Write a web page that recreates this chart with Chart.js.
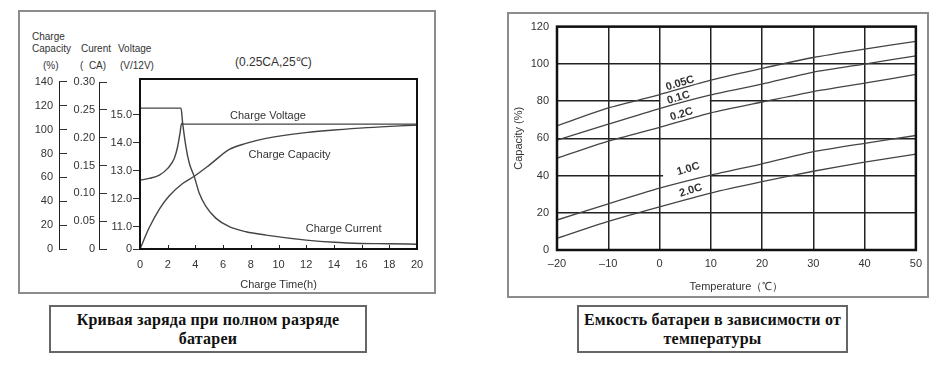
<!DOCTYPE html>
<html>
<head>
<meta charset="utf-8">
<script src="https://cdn.jsdelivr.net/npm/chart.js@4.4.1/dist/chart.umd.min.js"></script>
<style>
  body { margin: 0; background: #fff; width: 948px; height: 374px; position: relative; overflow: hidden;
         font-family: "Liberation Sans", Arial, sans-serif; color: #333; }
  .frame { position: absolute; box-sizing: border-box; border: 2px solid #8c8c8c; }
  canvas { position: absolute; }
  .txt { position: absolute; font-size: 10px; line-height: 12px; white-space: nowrap; color: #333; }
  .caption { position: absolute; box-sizing: border-box; border: 2px solid #666; text-align: center;
             font-family: "Liberation Serif", "Times New Roman", serif; font-weight: bold; font-size: 16px;
             letter-spacing: 0.2px; line-height: 19px; padding-top: 3px; color: #111; white-space: nowrap; }
</style>
</head>
<body>
<div class="frame" style="left:18px;top:10px;width:418px;height:284px"></div>
<div class="frame" style="left:507px;top:12px;width:422px;height:286px"></div>

<div class="txt" style="left:32px;top:31px">Charge</div>
<div class="txt" style="left:32px;top:43px">Capacity</div>
<div class="txt" style="left:81px;top:43px">Curent</div>
<div class="txt" style="left:118px;top:43px">Voltage</div>
<div class="txt" style="left:43px;top:60px">(%)</div>
<div class="txt" style="left:80px;top:60px">(&nbsp;&nbsp;CA)</div>
<div class="txt" style="left:120px;top:60px">(V/12V)</div>
<div class="txt" style="left:235px;top:55px;font-size:12px;line-height:14px">(0.25CA,25℃)</div>

<canvas id="chargeChart" width="418" height="284" style="left:18px;top:10px"></canvas>
<canvas id="tempChart" width="422" height="286" style="left:507px;top:12px"></canvas>

<div class="caption" style="left:49px;top:305px;width:318px;height:48px">Кривая заряда при полном разряде<br>батареи</div>
<div class="caption" style="left:577px;top:305px;width:271px;height:48px">Емкость батареи в зависимости от<br>температуры</div>

<script>
// ---- charge curve (left) ----
const timeTicks = [0, 2, 4, 6, 8, 10, 12, 14, 16, 18, 20];
const capacityTicks = [0, 20, 40, 60, 80, 100, 120, 140];
const currentTicks = [0, 0.05, 0.10, 0.15, 0.20, 0.25, 0.30];
const voltageTicks = [11, 12, 13, 14, 15];

const voltageTime = [0, 0.67, 1.4, 2.0, 2.48, 2.72, 2.89, 3.0, 3.08, 20];
const voltageValues = [12.67, 12.73, 12.85, 13.09, 13.45, 13.87, 14.35, 14.69, 14.67, 14.67];

const currentTime = [0, 2.96, 3.08, 3.32, 3.56, 3.92, 4.28, 4.77, 5.49, 6.45, 7.65, 9.1, 12, 14, 16, 18, 20];
const currentValues = [0.253, 0.253, 0.226, 0.183, 0.154, 0.130, 0.100, 0.076, 0.055, 0.040, 0.031, 0.025, 0.016, 0.012, 0.010, 0.0095, 0.0085];

const capacityTime = [0, 0.67, 1.4, 2.1, 3.08, 3.92, 5.0, 6.45, 7.65, 9.1, 12.1, 14, 16.4, 20];
const capacityValues = [0, 18.0, 33.5, 44.5, 54.9, 61, 70.3, 83.5, 88.5, 92.7, 97.8, 99.7, 101.7, 103.9];

// ---- capacity vs temperature (right) ----
const temps = [-20, -10, 0, 10, 20, 30, 40, 50];
const rateNames = ['0.05C', '0.1C', '0.2C', '1.0C', '2.0C'];
const cap005 = [66.7, 76.3, 83.5, 91.2, 97.6, 103.4, 107.9, 112.1];
const cap01 = [59.0, 67.6, 76.0, 83.3, 89.1, 95.5, 99.9, 104.3];
const cap02 = [49.3, 58.5, 65.9, 73.7, 79.5, 85.1, 89.6, 94.3];
const cap10 = [16.1, 24.8, 33.2, 40.2, 46.3, 52.8, 57.3, 61.5];
const cap20 = [6.3, 15.4, 23.2, 30.6, 36.7, 42.3, 47.2, 51.5];

Chart.defaults.font.family = '"Liberation Sans", Arial, sans-serif';
Chart.defaults.font.size = 11;
Chart.defaults.color = '#333';

function pts(xs, ys) {
    return xs.map((x, i) => ({x: x, y: ys[i]}));
}
function fixTicks(list) {
    return function (scale) { scale.ticks = list.map(v => ({value: v})); };
}

const lineStyle = {borderColor: '#444', borderWidth: 1.4, pointRadius: 0, fill: false, cubicInterpolationMode: 'monotone'};

const chargePlugin = {
    id: 'chargeDeco',
    afterDraw(chart) {
        const ctx = chart.ctx, a = chart.chartArea, s = chart.scales;
        ctx.save();
        ctx.strokeStyle = '#222';
        ctx.lineWidth = 1;
        // inner ticks on time axis
        s.x.ticks.forEach(t => {
            if (t.value === 0 || t.value === 20) return;
            const px = Math.round(s.x.getPixelForValue(t.value)) + 0.5;
            ctx.beginPath(); ctx.moveTo(px, a.bottom); ctx.lineTo(px, a.bottom - 4); ctx.stroke();
        });
        // spine lines of the two outer axes (ticks point right)
        ['yCap', 'yCur'].forEach(id => {
            const sc = s[id];
            const lx = Math.round(sc.right - 8) + 0.5;
            const top = sc.getPixelForValue(sc.ticks[sc.ticks.length - 1].value);
            ctx.beginPath(); ctx.moveTo(lx, top); ctx.lineTo(lx, sc.getPixelForValue(0)); ctx.stroke();
        });
        // plot frame
        ctx.strokeStyle = '#111';
        ctx.lineWidth = 2;
        ctx.strokeRect(a.left, a.top, a.right - a.left, a.bottom - a.top);
        // curve names
        ctx.fillStyle = '#333';
        ctx.font = '11px "Liberation Sans", Arial, sans-serif';
        ctx.textAlign = 'center';
        ctx.textBaseline = 'middle';
        ctx.fillText('Charge Voltage', s.x.getPixelForValue(9.24), s.yVolt.getPixelForValue(14.96));
        ctx.fillText('Charge Capacity', s.x.getPixelForValue(10.8), s.yCap.getPixelForValue(78.8));
        ctx.fillText('Charge Current', s.x.getPixelForValue(14.7), s.yCur.getPixelForValue(0.036));
        ctx.restore();
    }
};

new Chart(document.getElementById('chargeChart'), {
    type: 'line',
    data: {
        datasets: [
            Object.assign({label: 'Charge Voltage', data: pts(voltageTime, voltageValues), yAxisID: 'yVolt'}, lineStyle),
            Object.assign({label: 'Charge Current', data: pts(currentTime, currentValues), yAxisID: 'yCur'}, lineStyle),
            Object.assign({label: 'Charge Capacity', data: pts(capacityTime, capacityValues), yAxisID: 'yCap'}, lineStyle)
        ]
    },
    options: {
        responsive: false,
        animation: false,
        layout: {padding: {left: 0, top: 69, right: 19, bottom: 0}},
        plugins: {legend: {display: false}, tooltip: {enabled: false}},
        scales: {
            x: {
                type: 'linear', min: 0, max: 20,
                afterBuildTicks: fixTicks(timeTicks),
                afterFit(scale) { scale.height = 45; },
                grid: {display: false, drawTicks: false},
                border: {display: false},
                ticks: {padding: 9, maxRotation: 0, autoSkip: false},
                title: {display: true, text: 'Charge Time(h)', padding: {top: 0, bottom: 2}, font: {size: 11}}
            },
            yVolt: {
                position: 'left', weight: 0, min: 10.21, max: 16.28,
                afterBuildTicks(scale) { scale.ticks = [{value: 10.21}].concat(voltageTicks.map(v => ({value: v}))); },
                afterFit(scale) { scale.width = 33; },
                grid: {drawOnChartArea: false, tickLength: 7, color: '#333'},
                border: {display: false},
                ticks: {padding: 1, callback: v => v < 11 ? '0' : v.toFixed(1)}
            },
            yCur: {
                position: 'left', weight: 1, min: 0, max: 0.3054,
                afterBuildTicks: fixTicks(currentTicks),
                afterFit(scale) { scale.width = 40; },
                grid: {drawOnChartArea: false, tickLength: 8, color: '#333'},
                border: {display: false},
                ticks: {padding: 4, callback: v => v === 0 ? '0' : v.toFixed(2)}
            },
            yCap: {
                position: 'left', weight: 2, min: 0, max: 142.5,
                afterBuildTicks: fixTicks(capacityTicks),
                afterFit(scale) { scale.width = 49; },
                grid: {drawOnChartArea: false, tickLength: 8, color: '#333'},
                border: {display: false},
                ticks: {padding: 6, callback: v => String(v)}
            }
        }
    },
    plugins: [chargePlugin]
});

// ---- right chart ----
const rateLabelPos = [[4.0, 89.6], [3.7, 81.8], [4.3, 72.9], [5.6, 43.5], [6.1, 32.0]];

const tempPlugin = {
    id: 'tempDeco',
    beforeDatasetsDraw(chart) {
        // gaps in the 80 and 40 grid lines behind the labels
        const ctx = chart.ctx, s = chart.scales;
        ctx.save();
        ctx.fillStyle = '#fff';
        [[0, 10, 80], [0.5, 10, 40]].forEach(g => {
            const x1 = s.x.getPixelForValue(g[0]) + 1, x2 = s.x.getPixelForValue(g[1]) - 1;
            const y = s.y.getPixelForValue(g[2]);
            ctx.fillRect(x1, y - 1.5, x2 - x1, 3);
        });
        ctx.restore();
    },
    afterDraw(chart) {
        const ctx = chart.ctx, a = chart.chartArea, s = chart.scales;
        ctx.save();
        ctx.strokeStyle = '#111';
        ctx.lineWidth = 2.5;
        ctx.strokeRect(a.left, a.top, a.right - a.left, a.bottom - a.top);
        ctx.fillStyle = '#333';
        ctx.font = 'bold 11px "Liberation Sans", Arial, sans-serif';
        ctx.textAlign = 'center';
        ctx.textBaseline = 'middle';
        rateNames.forEach((name, i) => {
            const p = rateLabelPos[i];
            ctx.save();
            ctx.translate(s.x.getPixelForValue(p[0]), s.y.getPixelForValue(p[1]));
            ctx.rotate(-17 * Math.PI / 180);
            ctx.fillText(name, 0, 0);
            ctx.restore();
        });
        ctx.restore();
    }
};

const rateLine = {borderColor: '#444', borderWidth: 1.3, pointRadius: 0, fill: false, tension: 0.2};

new Chart(document.getElementById('tempChart'), {
    type: 'line',
    data: {
        datasets: [cap005, cap01, cap02, cap10, cap20].map((arr, i) =>
            Object.assign({label: rateNames[i], data: pts(temps, arr)}, rateLine))
    },
    options: {
        responsive: false,
        animation: false,
        layout: {padding: {left: 0, top: 9, right: 13, bottom: 0}},
        plugins: {legend: {display: false}, tooltip: {enabled: false}},
        scales: {
            x: {
                type: 'linear', min: -20, max: 50,
                afterBuildTicks: fixTicks(temps),
                afterFit(scale) { scale.height = 48; },
                grid: {color: '#222', lineWidth: 1.5, drawTicks: false},
                border: {display: false},
                ticks: {padding: 7, callback: v => v < 0 ? '\u2013' + Math.abs(v) : String(v)},
                title: {display: true, text: 'Temperature（℃）', padding: {top: 0, bottom: 4}, font: {size: 11}}
            },
            y: {
                min: 0, max: 120,
                ticks: {stepSize: 20, padding: 8},
                afterFit(scale) { scale.width = 50; },
                grid: {color: '#222', lineWidth: 1.5, drawTicks: false},
                border: {display: false},
                title: {display: true, text: 'Capacity (%)', padding: {top: 5, bottom: 0}, font: {size: 11}}
            }
        }
    },
    plugins: [tempPlugin]
});
</script>
</body>
</html>
